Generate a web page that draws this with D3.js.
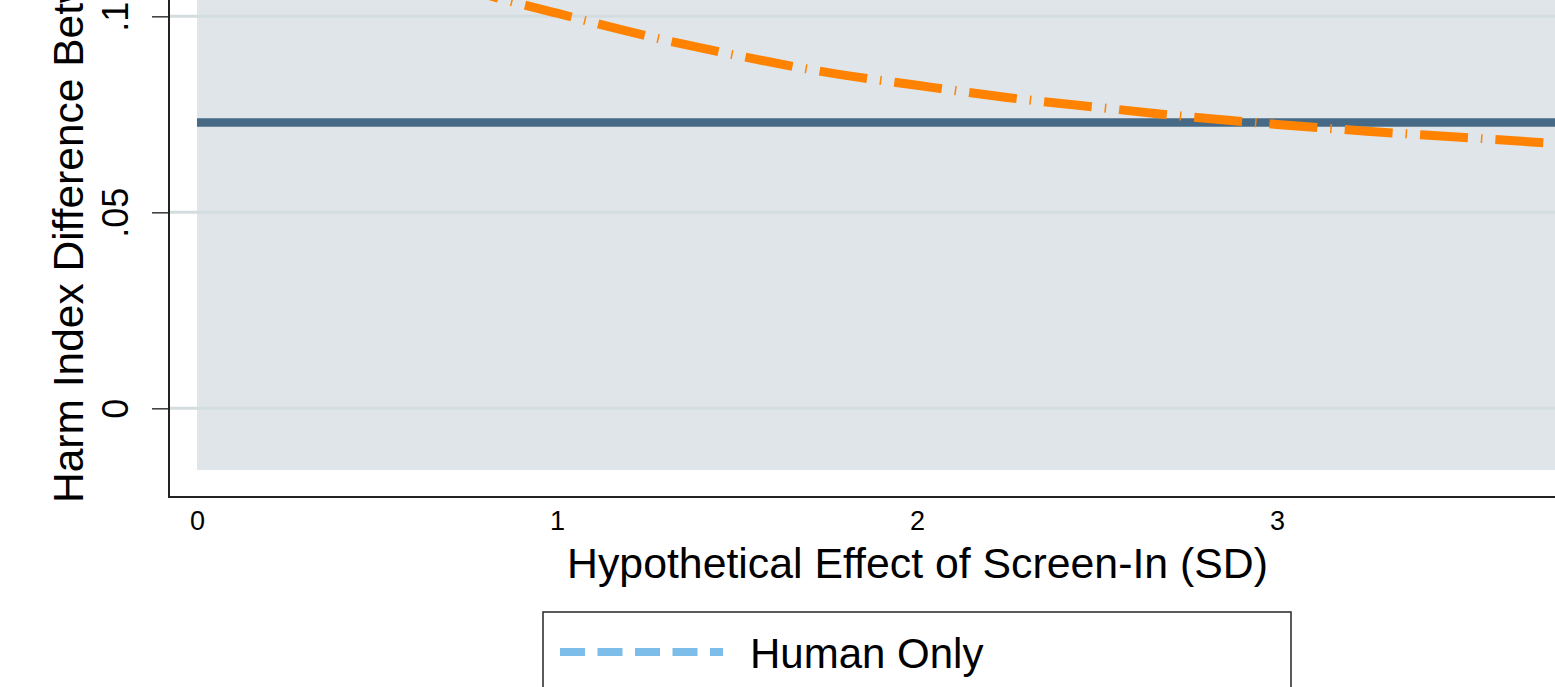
<!DOCTYPE html>
<html>
<head>
<meta charset="utf-8">
<script src="https://cdn.jsdelivr.net/npm/d3@7/dist/d3.min.js"></script>
<style>
  html, body { margin: 0; padding: 0; background: #ffffff; overflow: hidden; }
  svg { display: block; font-family: "Liberation Sans", Arial, Helvetica, sans-serif; }
</style>
</head>
<body>
<svg id="chart" width="1555" height="687"></svg>
<script>
// ---- data ----
const xTickValues = [0, 1, 2, 3];
const xTickLabels = ["0", "1", "2", "3"];
const yTickValues = [0, 0.05, 0.1];
const yTickLabels = ["0", ".05", ".1"];

// dash-dot orange series
const curveX = [0.5, 0.75, 1, 1.25, 1.5, 1.75, 2, 2.25, 2.5, 2.75, 3, 3.25, 3.5, 3.75, 4];
const curveY = [0.118, 0.1072, 0.1008, 0.0950, 0.0900, 0.0857, 0.0824, 0.0793, 0.0768, 0.0744, 0.0724, 0.0707, 0.0692, 0.0677, 0.0665];

// flat solid series
const flatX = [0, 4];
const flatY = [0.0729, 0.0729];

const legendLabels = ["Human Only"];

const xTitle = "Hypothetical Effect of Screen-In (SD)";
const yTitle = "Harm Index Difference Between";

// ---- layout ----
const svg = d3.select("#chart");
const W = 1555, H = 687;

const x = d3.scaleLinear().domain([0, 4]).range([197, 197 + 4 * 360]);
const y = d3.scaleLinear().domain([0, 0.1]).range([408.3, 16.3]);

const axisX = 169, axisY = 497;

// plot region background
svg.append("rect")
  .attr("x", x(0)).attr("y", -200)
  .attr("width", 2000).attr("height", 470 + 200)
  .attr("fill", "#e0e5e9");

// gridlines
svg.append("g").selectAll("line").data(yTickValues).join("line")
  .attr("x1", axisX + 1).attr("x2", W + 10)
  .attr("y1", d => y(d)).attr("y2", d => y(d))
  .attr("stroke", "#d3dcdf").attr("stroke-width", 3);

// y axis
const yAxis = d3.axisLeft(y).tickValues(yTickValues)
  .tickFormat((d, i) => yTickLabels[i]).tickSize(17).tickPadding(0);
const gy = svg.append("g").attr("transform", `translate(${axisX},0)`).call(yAxis);
gy.select(".domain").remove();
gy.selectAll(".tick line").attr("stroke", "#444").attr("stroke-width", 1.6);
gy.selectAll(".tick text")
  .attr("x", 0).attr("y", 0).attr("dy", null)
  .attr("transform", `translate(${128 - axisX},0) rotate(-90)`)
  .attr("text-anchor", "middle")
  .attr("font-size", 36).attr("fill", "#000")
  .attr("font-family", "Liberation Sans, Arial, sans-serif");

// x axis
const xAxis = d3.axisBottom(x).tickValues(xTickValues)
  .tickFormat((d, i) => xTickLabels[i]).tickSize(0).tickPadding(0);
const gx = svg.append("g").attr("transform", `translate(0,${axisY})`).call(xAxis);
gx.select(".domain").remove();
gx.selectAll(".tick text")
  .attr("y", 33).attr("dy", null)
  .attr("font-size", 27).attr("fill", "#000")
  .attr("font-family", "Liberation Sans, Arial, sans-serif");

// axis lines
svg.append("line").attr("x1", axisX).attr("x2", axisX).attr("y1", -10).attr("y2", axisY + 1)
  .attr("stroke", "#222").attr("stroke-width", 2);
svg.append("line").attr("x1", axisX - 1).attr("x2", W + 10).attr("y1", axisY).attr("y2", axisY)
  .attr("stroke", "#222").attr("stroke-width", 2);

// flat series
const line = d3.line().x(d => x(d[0])).y(d => y(d[1]));
svg.append("path")
  .attr("d", line(flatX.map((v, i) => [v, flatY[i]])))
  .attr("fill", "none").attr("stroke", "#466a86").attr("stroke-width", 8.5);

// dash-dot curve
const smooth = d3.line().x(d => x(d[0])).y(d => y(d[1])).curve(d3.curveMonotoneX);
const curvePath = svg.append("path")
  .attr("d", smooth(curveX.map((v, i) => [v, curveY[i]])))
  .attr("fill", "none").attr("stroke", "#ff8200").attr("stroke-width", 9)
  .attr("stroke-linecap", "butt")
  .attr("stroke-dasharray", "48,13,1.5,13");
// align the dash phase so a dash begins near x = 525 as in the reference
(function () {
  const node = curvePath.node();
  const total = node.getTotalLength();
  let lo = 0, hi = total;
  for (let k = 0; k < 40; k++) {
    const mid = (lo + hi) / 2;
    if (node.getPointAtLength(mid).x < 525) lo = mid; else hi = mid;
  }
  const P = 48 + 13 + 1.5 + 13;
  curvePath.attr("stroke-dashoffset", P - (lo % P));
})();

// titles
svg.append("text")
  .attr("x", 917.5).attr("y", 578)
  .attr("text-anchor", "middle").attr("font-size", 42.8).attr("fill", "#000")
  .text(xTitle);
svg.append("text")
  .attr("transform", "translate(83,503) rotate(-90)")
  .attr("text-anchor", "start").attr("font-size", 42.5).attr("fill", "#000")
  .text(yTitle);

// legend
const lg = svg.append("g");
lg.append("rect").attr("x", 543).attr("y", 612).attr("width", 748).attr("height", 200)
  .attr("fill", "#fff").attr("stroke", "#333").attr("stroke-width", 1.6);
lg.append("line").attr("x1", 560).attr("x2", 723).attr("y1", 652).attr("y2", 652)
  .attr("stroke", "#7dbde9").attr("stroke-width", 8).attr("stroke-dasharray", "25,12.5");
lg.append("text").attr("x", 750).attr("y", 668).attr("font-size", 42).attr("fill", "#000")
  .text(legendLabels[0]);
</script>
</body>
</html>
